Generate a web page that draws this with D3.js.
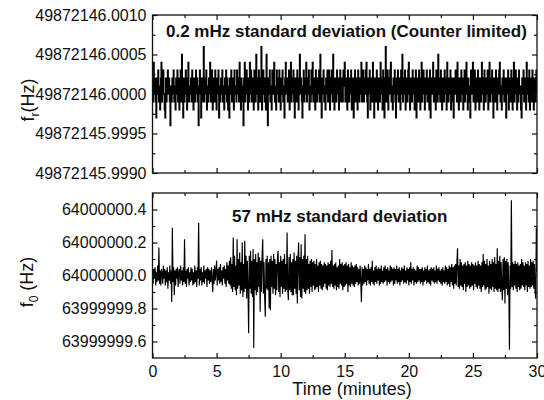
<!DOCTYPE html>
<html>
<head>
<meta charset="utf-8">
<script src="https://cdn.jsdelivr.net/npm/d3@7"></script>
<style>
  body { margin: 0; background: #fff; }
  text { font-family: "Liberation Sans", Arial, sans-serif; fill: #111; }
  .axis path { display: none; }
  .axis line { stroke: #111; stroke-width: 1.2; }
  .axis text { font-size: 16px; }
</style>
</head>
<body>
<div id="plot"></div>
<script>
const width = 544;
const height = 400;

// ----- DATA -------------------------------------------------------//
// one sample every 0.05 min (3 s), 0 .. 30 min
const sampleStep = 0.05;
const timeTicks = [0, 5, 10, 15, 20, 25, 30];

// f_r counter readings, in counts of 0.1 mHz from 49872146.0000 Hz
const frResolution = 0.0001;
const frCounts = [
   1,-1, 4, 0, 2,-1,-3, 2, 0, 3,-1, 1,-2, 2, 4,-1, 1, 3, 0,-2,-3, 2,-1, 1, 3, 0, 2,-1,-4, 1,
  -1, 2, 0, 3,-1, 1,-2, 2, 0, 3,-1, 2,-2, 1, 3,-1, 5, 0,-3, 2,-1, 1, 3, 0,-2, 2, 4,-1, 1, 0,
   2,-1, 3, 0,-2, 2, 1,-1, 3, 0, 2,-1,-4, 1, 3, 0,-3, 2,-1, 1, 6,-1, 2, 0, 3,-2, 1,-1, 2, 0,
   4,-1, 1, 3,-2, 0, 2,-1, 3, 1,-2, 2, 0, 3,-3, 1,-1, 2, 0, 3,-1, 1,-2, 2, 0, 3,-1, 2,-2, 1,
  -3, 2, 0, 3,-1, 1, 2,-2, 3, 0, 1,-1, 3, 0, 2,-1, 4, 0,-2, 2, 1,-1,-4, 2, 4,-1, 1, 3, 0,-2,
   2,-1, 4, 0, 3,-1, 2, 0,-2, 3, 1,-1, 5, 0, 2,-2, 3, 1,-1, 2, 6,-2, 1, 3, 0,-1, 2,-2, 5, 1,
  -4, 2, 0, 3,-1, 1,-2, 3, 0, 2, 4,-1, 1,-2, 3, 0, 2,-1, 3, 1,-2, 2, 0, 3,-1, 1,-3, 2, 4, 0,
   2,-1, 1, 3,-2, 0, 4,-1, 2, 0, 3,-1,-3, 2, 1,-1, 3, 0,-2, 2, 5, 0, 2,-1,-3, 1, 3,-1, 2, 0,
   4,-1, 2, 0, 3,-2, 1,-1, 3, 0, 4,-1, 2, 0,-2, 3, 1,-1, 2, 0, 3,-1, 5, 1,-3, 2, 0, 3,-1, 1,
  -2, 2, 0, 3,-1, 1, 3,-2, 2, 0, 3,-1, 5, 0,-2, 2, 1,-1, 3, 0, 2,-2, 1, 3,-1, 0, 2,-1, 3, 1,
   4,-1, 2, 0,-2, 3, 1,-1, 2, 0, 3,-2, 1, 2,-3, 1, 3,-1, 2, 0,-2, 3, 1,-1, 2, 0, 4,-1, 1, 3,
  -1, 2, 0, 3, 4,-1,-3, 2, 0, 3,-2, 1, 2,-1, 4, 0,-3, 2, 1,-1, 3, 0,-2, 2, 1,-1, 4, 0, 2,-2,
   3, 0,-3, 2, 6,-1, 1, 3,-2, 2, 0, 3, 4,-1, 1,-2, 2, 0, 3,-1,-3, 2, 0, 3,-1, 1, 2,-2, 3, 0,
   5,-1, 2, 0, 3,-2, 1, 2,-1, 3, 4, 0,-2, 2, 1,-1, 3, 0, 2,-2, 1, 3,-3, 2, 0,-1, 3, 1,-2, 2,
   4,-1, 1, 3, 0,-2, 2, 0, 3,-1, 1, 2,-2, 3,-3, 1, 2, 0, 4,-1, 2, 0,-2, 3, 1,-1, 5, 0, 2,-1,
   3, 0,-2, 2, 1,-1, 3, 0, 2,-2, 4, 1,-1, 2, 0, 3,-2, 1, 2,-1,-3, 2, 0, 3, 1,-1, 4, 0,-2, 2,
   1,-1, 3, 0, 2,-2, 1, 3,-1, 2, 4, 0,-2, 2, 1,-1,-3, 3, 0, 2, 4,-1, 1, 3,-2, 0, 2,-1, 3, 0,
  -2, 2, 1,-1, 4, 0, 2,-2, 3, 1,-1, 2, 0, 3,-2, 1, 4,-1, 2, 0, 3,-1,-3, 2, 1,-1, 3, 0,-2, 2,
   0, 3, 4,-1, 1,-2, 2, 0, 3,-1, 1, 2,-3, 2, 0, 3,-2, 1, 2,-1, 3, 0,-2, 2, 4,-1, 1, 3, 0,-2,
   2,-1, 3, 0, 1,-2,-3, 2, 0, 3,-1, 1, 2,-2, 4, 0, 2,-1, 3,-2, 1, 2,-1, 3, 0,-2, 2, 1,-1, 3,
   0
];

// f_0 readings, Hz offset from 64000000.0 Hz
const f0Offsets = [
  0.03,-0.05,0.04,-0.02,0.05,-0.06,0.02,-0.04,0.06,-0.03,0.17,-0.05,0.03,-0.06,0.04,0.01,-0.05,0.06,-0.02,0.04,-0.06,0.03,-0.04,0.05,-0.08,0.02,-0.03,0.06,-0.05,0.03,
  -0.16,0.29,-0.04,0.05,-0.12,0.03,-0.06,0.04,-0.02,0.05,-0.07,0.02,0.04,-0.05,0.06,-0.03,0.03,-0.06,0.05,-0.04,0.22,-0.05,0.03,-0.07,0.04,-0.02,0.05,-0.06,0.02,-0.04,
  0.05,-0.03,0.04,-0.06,0.02,-0.05,0.06,-0.04,0.03,-0.07,0.05,-0.02,0.32,-0.06,0.04,-0.03,0.05,-0.06,0.02,-0.04,0.06,-0.05,0.03,-0.02,0.04,-0.07,0.05,-0.03,0.04,-0.05,
  0.03,-0.04,0.05,-0.02,-0.10,0.04,-0.05,0.06,-0.03,0.02,0.09,-0.06,0.04,-0.03,0.05,-0.05,0.07,-0.04,0.03,-0.06,0.05,-0.02,0.06,-0.05,0.04,-0.07,0.08,-0.03,0.06,-0.05,
  0.09,-0.06,0.11,-0.08,0.07,-0.10,0.23,-0.07,0.12,-0.09,0.06,-0.12,0.22,-0.08,0.10,-0.06,0.14,-0.11,0.08,-0.09,0.20,-0.13,0.07,-0.10,0.21,-0.08,0.12,-0.14,0.09,-0.07,
  -0.35,0.12,-0.08,0.15,-0.11,0.09,-0.13,0.16,-0.44,0.10,-0.09,0.13,-0.12,0.08,-0.10,0.14,-0.07,0.11,-0.22,0.09,-0.10,0.12,0.22,-0.11,0.08,-0.13,-0.25,0.10,-0.08,0.12,
  -0.09,0.08,-0.20,0.10,-0.21,0.12,-0.07,0.09,-0.11,0.13,-0.08,0.10,-0.12,0.07,-0.09,0.11,0.15,-0.10,0.08,-0.13,0.12,-0.07,0.09,-0.11,0.10,-0.08,0.13,-0.10,0.07,-0.09,
  0.26,-0.08,-0.15,0.11,-0.09,0.13,-0.10,0.08,-0.12,0.10,-0.12,0.14,-0.08,0.09,-0.11,0.12,-0.17,0.10,0.20,-0.09,0.11,-0.13,0.19,-0.14,0.10,-0.08,0.12,-0.10,0.25,-0.11,
  0.10,-0.09,0.12,-0.08,0.07,-0.11,0.09,-0.07,0.10,-0.10,0.08,-0.06,0.09,-0.09,0.07,-0.08,0.10,-0.07,0.06,-0.10,0.08,-0.06,0.09,-0.08,0.07,-0.09,0.06,-0.07,0.08,-0.05,
  0.07,-0.08,0.06,-0.09,0.08,-0.06,0.07,-0.07,0.09,-0.05,0.155,-0.07,0.06,-0.08,0.07,-0.06,0.08,-0.09,0.05,-0.07,0.06,-0.08,0.10,-0.05,0.07,-0.06,0.08,-0.09,0.06,-0.07,
  0.07,-0.06,0.08,-0.05,0.06,-0.10,0.07,-0.06,0.05,-0.07,0.08,-0.05,0.06,-0.06,0.05,-0.07,0.06,-0.05,0.07,-0.04,0.05,-0.06,0.04,-0.05,0.06,-0.04,-0.16,0.05,-0.06,0.04,
  -0.05,0.06,-0.04,0.05,-0.06,0.04,-0.03,0.07,-0.05,0.04,-0.06,0.05,-0.04,0.09,-0.05,0.03,-0.06,0.05,-0.04,0.06,-0.05,0.04,-0.03,0.05,-0.06,0.04,-0.05,0.06,-0.04,0.03,
  -0.05,0.05,-0.04,0.06,-0.03,0.04,-0.06,0.05,-0.04,0.03,-0.05,0.06,-0.04,0.05,-0.03,0.04,-0.06,0.05,-0.05,0.04,-0.03,0.06,-0.05,0.04,-0.04,0.05,-0.06,0.03,-0.04,0.05,
  -0.03,0.04,-0.05,0.06,-0.04,0.03,-0.05,0.05,-0.03,0.04,-0.06,0.05,-0.04,0.08,-0.05,0.04,-0.03,0.05,-0.06,0.04,-0.04,0.03,-0.05,0.06,-0.04,0.05,-0.03,0.04,-0.05,0.04,
  -0.04,0.05,-0.06,0.03,-0.04,0.05,-0.03,0.04,-0.05,0.06,-0.04,0.03,-0.05,0.04,-0.06,0.05,-0.03,0.04,-0.04,0.05,-0.05,0.03,-0.04,0.06,-0.05,0.04,-0.03,0.05,-0.04,0.03,
  -0.05,0.04,-0.06,0.05,-0.04,0.03,-0.05,0.06,-0.04,0.05,-0.06,0.04,-0.05,0.06,-0.07,0.05,-0.04,0.07,-0.06,0.05,-0.08,0.06,-0.05,0.07,-0.06,0.08,0.165,-0.07,0.06,-0.08,
  0.10,-0.06,0.08,-0.07,0.06,-0.09,0.07,-0.05,0.08,-0.10,0.06,-0.07,0.09,-0.06,0.07,-0.08,0.06,-0.07,0.08,-0.06,0.07,-0.09,0.06,-0.05,0.08,-0.07,0.06,-0.08,0.09,-0.06,
  0.07,-0.08,0.06,-0.10,0.08,-0.07,0.13,-0.06,0.09,-0.09,0.07,-0.08,0.10,-0.07,0.06,-0.11,0.09,-0.08,0.07,-0.09,0.10,-0.07,0.08,-0.10,0.11,-0.08,0.07,-0.09,0.165,-0.10,
  0.09,-0.08,0.12,-0.10,0.08,-0.07,-0.15,0.10,-0.09,0.11,-0.17,0.09,-0.08,0.10,-0.12,0.08,-0.07,-0.45,0.06,-0.08,0.456,-0.07,0.08,-0.09,0.07,-0.06,0.09,-0.08,0.07,-0.10,
  0.08,-0.07,0.06,-0.09,0.07,-0.08,0.10,-0.06,0.08,-0.07,0.06,-0.09,0.08,-0.06,0.07,-0.10,0.09,-0.07,0.06,-0.08,0.10,-0.07,0.08,-0.06,0.09,-0.08,0.07,-0.09,-0.14,0.29,
  0.02
];

// tick values (offsets) and their printed labels
const frTickValues = [-0.001, -0.0005, 0, 0.0005, 0.001];
const frTickLabels = ["49872145.9990", "49872145.9995", "49872146.0000", "49872146.0005", "49872146.0010"];
const f0TickValues = [-0.4, -0.2, 0, 0.2, 0.4];
const f0TickLabels = ["63999999.6", "63999999.8", "64000000.0", "64000000.2", "64000000.4"];

const frTitle = "0.2 mHz standard deviation (Counter limited)";
const f0Title = "57 mHz standard deviation";

// ----- LAYOUT -----------------------------------------------------//
const x0 = 152.5, x1 = 537;
const panels = [
  { top: 15, bottom: 173, domain: [-0.001, 0.001], major: frTickValues, labels: frTickLabels,
    minor: [-0.00075, -0.00025, 0.00025, 0.00075], curve: d3.curveStep, lw: 1.4,
    values: frCounts.map(c => c * frResolution), title: frTitle, titleX: 166, titleY: 37 },
  { top: 193, bottom: 358, domain: [-0.5, 0.5], major: f0TickValues, labels: f0TickLabels,
    minor: [-0.3, -0.1, 0.1, 0.3], curve: d3.curveLinear, lw: 1.15,
    values: f0Offsets, title: f0Title, titleX: 232, titleY: 222 }
];

const svg = d3.select("#plot").append("svg")
    .attr("width", width)
    .attr("height", height);

const xScl = d3.scaleLinear().domain([0, 30]).range([x0, x1]);
const xMinor = [2.5, 7.5, 12.5, 17.5, 22.5, 27.5];

panels.forEach(function (p, k) {
  const yScl = d3.scaleLinear().domain(p.domain).range([p.bottom, p.top]);
  const g = svg.append("g");

  svg.append("clipPath").attr("id", "clip" + k)
    .append("rect")
    .attr("x", x0).attr("y", p.top)
    .attr("width", x1 - x0).attr("height", p.bottom - p.top);

  // data line
  const line = d3.line()
      .x((d, i) => xScl(i * sampleStep))
      .y(d => yScl(d))
      .curve(p.curve);

  g.append("path")
    .datum(p.values)
    .attr("clip-path", "url(#clip" + k + ")")
    .attr("fill", "none")
    .attr("stroke", "#000")
    .attr("stroke-width", p.lw)
    .attr("d", line);

  // left axis (labels), inward ticks
  g.append("g").attr("class", "axis")
    .attr("transform", "translate(" + x0 + ",0)")
    .call(d3.axisLeft(yScl).tickValues(p.major).tickSize(-5).tickPadding(6)
      .tickFormat((d, i) => p.labels[i]));
  g.append("g").attr("class", "axis")
    .attr("transform", "translate(" + x0 + ",0)")
    .call(d3.axisLeft(yScl).tickValues(p.minor).tickSize(-3).tickFormat(""));

  // right axis
  g.append("g").attr("class", "axis")
    .attr("transform", "translate(" + x1 + ",0)")
    .call(d3.axisRight(yScl).tickValues(p.major).tickSize(-5).tickFormat(""));
  g.append("g").attr("class", "axis")
    .attr("transform", "translate(" + x1 + ",0)")
    .call(d3.axisRight(yScl).tickValues(p.minor).tickSize(-3).tickFormat(""));

  // top axis
  g.append("g").attr("class", "axis")
    .attr("transform", "translate(0," + p.top + ")")
    .call(d3.axisTop(xScl).tickValues(timeTicks).tickSize(-5).tickFormat(""));
  g.append("g").attr("class", "axis")
    .attr("transform", "translate(0," + p.top + ")")
    .call(d3.axisTop(xScl).tickValues(xMinor).tickSize(-3).tickFormat(""));

  // bottom axis, labels only on lower panel
  g.append("g").attr("class", "axis")
    .attr("transform", "translate(0," + p.bottom + ")")
    .call(d3.axisBottom(xScl).tickValues(timeTicks).tickSize(-5).tickPadding(8)
      .tickFormat(k === 1 ? d3.format("d") : ""));
  g.append("g").attr("class", "axis")
    .attr("transform", "translate(0," + p.bottom + ")")
    .call(d3.axisBottom(xScl).tickValues(xMinor).tickSize(-3).tickFormat(""));

  // frame
  g.append("rect")
    .attr("x", x0).attr("y", p.top)
    .attr("width", x1 - x0).attr("height", p.bottom - p.top)
    .attr("fill", "none")
    .attr("stroke", "#111")
    .attr("stroke-width", 1.3);

  g.append("text")
    .attr("x", p.titleX).attr("y", p.titleY)
    .style("font-size", "17px")
    .style("font-weight", "bold")
    .text(p.title);
});

svg.selectAll(".axis text").style("font-size", "16px");

// y labels with subscripts
function yLabel(cx, cy, sub, rest) {
  const t = svg.append("text")
      .attr("transform", "translate(" + cx + "," + cy + ") rotate(-90)")
      .attr("text-anchor", "middle")
      .style("font-size", "18px");
  t.append("tspan").text("f");
  t.append("tspan").attr("dy", 5).style("font-size", "12px").text(sub);
  t.append("tspan").attr("dy", -5).text(rest);
}
yLabel(34, 100, "r", "(Hz)");
yLabel(33, 282, "0", " (Hz)");

svg.append("text")
  .attr("x", 352).attr("y", 395)
  .attr("text-anchor", "middle")
  .style("font-size", "18px")
  .text("Time (minutes)");
</script>
</body>
</html>
